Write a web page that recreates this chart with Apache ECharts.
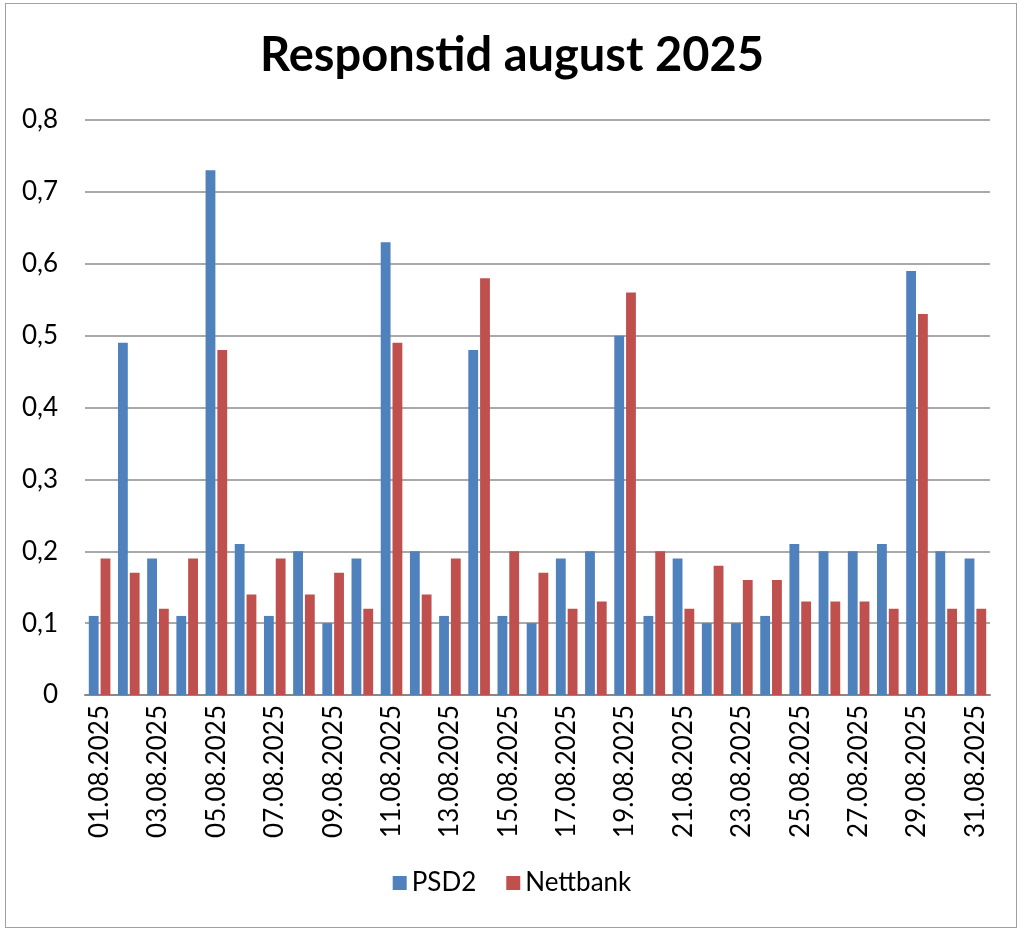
<!DOCTYPE html>
<html><head><meta charset="utf-8">
<script src="https://cdn.jsdelivr.net/npm/echarts@6/dist/echarts.min.js"></script>
<style>html,body{margin:0;padding:0;background:#fff}#frame{position:absolute;left:5px;top:3px;width:1012px;height:925px;border:1px solid #a0a0a0;box-sizing:border-box}#c{width:1024px;height:935px;position:absolute;left:0;top:0}</style>
</head><body><div id="frame"></div><div id="c"></div>
<script>
const categories = ["01.08.2025","02.08.2025","03.08.2025","04.08.2025","05.08.2025","06.08.2025","07.08.2025","08.08.2025","09.08.2025","10.08.2025","11.08.2025","12.08.2025","13.08.2025","14.08.2025","15.08.2025","16.08.2025","17.08.2025","18.08.2025","19.08.2025","20.08.2025","21.08.2025","22.08.2025","23.08.2025","24.08.2025","25.08.2025","26.08.2025","27.08.2025","28.08.2025","29.08.2025","30.08.2025","31.08.2025"];
const psd2 = [0.11,0.49,0.19,0.11,0.73,0.21,0.11,0.20,0.10,0.19,0.63,0.20,0.11,0.48,0.11,0.10,0.19,0.20,0.50,0.11,0.19,0.10,0.10,0.11,0.21,0.20,0.20,0.21,0.59,0.20,0.19];
const nettbank = [0.19,0.17,0.12,0.19,0.48,0.14,0.19,0.14,0.17,0.12,0.49,0.14,0.19,0.58,0.20,0.17,0.12,0.13,0.56,0.20,0.12,0.18,0.16,0.16,0.13,0.13,0.13,0.12,0.53,0.12,0.12];
const chart = echarts.init(document.getElementById('c'), null, {renderer:'canvas'});
const F = 'Lato, "Open Sans", sans-serif';
chart.setOption({
  animation:false,
  title:{text:'Responstid august 2025',left:'center',top:27,textStyle:{fontFamily:F,fontWeight:'bold',fontSize:47,color:'#000'}},
  legend:{bottom:34,left:'center',itemWidth:14,itemHeight:14,itemGap:30,icon:'rect',textStyle:{fontFamily:F,fontSize:26,color:'#000'},data:['PSD2','Nettbank']},
  grid:{left:85,right:34,top:120,bottom:240,containLabel:false},
  xAxis:{type:'category',data:categories,
    axisLine:{lineStyle:{color:'#888',width:2}},axisTick:{show:false},
    axisLabel:{rotate:90,interval:1,fontFamily:F,fontSize:26,color:'#000',margin:10}},
  yAxis:{type:'value',min:0,max:0.8,interval:0.1,
    axisLine:{show:false},axisTick:{show:false},
    splitLine:{lineStyle:{color:'#8c8c8c',width:1.5}},
    axisLabel:{fontFamily:F,fontSize:26,color:'#000',margin:27,formatter:v=>v===0?'0':v.toFixed(1).replace('.',',')}},
  series:[
    {name:'PSD2',type:'bar',data:psd2,itemStyle:{color:'#4F81BD'},barGap:'20%',barCategoryGap:'26%'},
    {name:'Nettbank',type:'bar',data:nettbank,itemStyle:{color:'#C0504D'},barGap:'20%',barCategoryGap:'26%'}
  ]
});
</script></body></html>
